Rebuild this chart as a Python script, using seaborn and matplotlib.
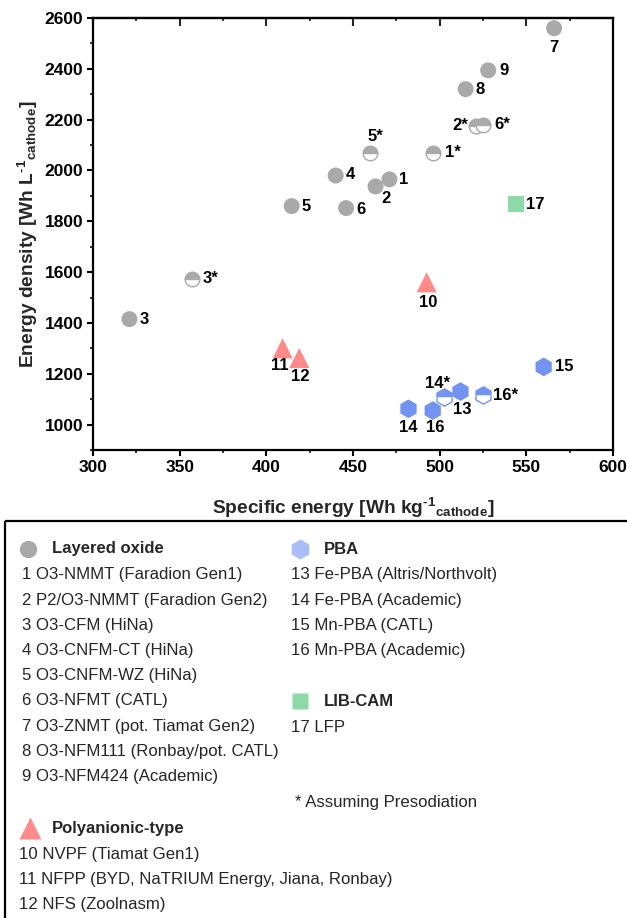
import numpy as np
import pandas as pd
import matplotlib
matplotlib.use("Agg")
import matplotlib.pyplot as plt
import seaborn as sns
from matplotlib.ticker import MultipleLocator
from matplotlib.patches import Rectangle

# ---------------- data ----------------
labels = ["1", "2", "3", "4", "5", "6", "7", "8", "9",
          "1*", "2*", "3*", "5*", "6*",
          "10", "11", "12",
          "13", "14", "15", "16", "14*", "16*",
          "17"]
specific_energy = [471, 463, 321, 440, 414.6, 446, 566, 515, 528,
                   496, 521, 357, 460, 525,
                   492.5, 409.4, 419,
                   512, 482, 560, 496, 502.5, 525,
                   544]
energy_density = [1965, 1937, 1415, 1980, 1860, 1852, 2560, 2320, 2394,
                  2069, 2176, 1574, 2067, 2178,
                  1560, 1300, 1262,
                  1130, 1062, 1227, 1055, 1110, 1118,
                  1868]
classes = ["Layered oxide"] * 14 + ["Polyanionic-type"] * 3 + ["PBA"] * 6 + ["LIB-CAM"]
presodiated = [False] * 9 + [True] * 5 + [False] * 3 + [False] * 4 + [True] * 2 + [False]

legend_layered = ["1 O3-NMMT (Faradion Gen1)", "2 P2/O3-NMMT (Faradion Gen2)",
                  "3 O3-CFM (HiNa)", "4 O3-CNFM-CT (HiNa)", "5 O3-CNFM-WZ (HiNa)",
                  "6 O3-NFMT (CATL)", "7 O3-ZNMT (pot. Tiamat Gen2)",
                  "8 O3-NFM111 (Ronbay/pot. CATL)", "9 O3-NFM424 (Academic)"]
legend_poly = ["10 NVPF (Tiamat Gen1)",
               "11 NFPP (BYD, NaTRIUM Energy, Jiana, Ronbay)",
               "12 NFS (Zoolnasm)"]
legend_pba = ["13 Fe-PBA (Altris/Northvolt)", "14 Fe-PBA (Academic)",
              "15 Mn-PBA (CATL)", "16 Mn-PBA (Academic)"]
legend_lib = ["17 LFP"]

df = pd.DataFrame({"label": labels, "x": specific_energy, "y": energy_density,
                   "cls": classes, "presod": presodiated})

# ---------------- styles ----------------
style = {
    "Layered oxide":    dict(marker="o", color="#A9A9A9", ms=11.5, lcolor="#A9A9A9"),
    "Polyanionic-type": dict(marker="^", color="#FF8A8A", ms=14.5, lcolor="#FF8A8A"),
    "PBA":              dict(marker="h", color="#7393F1", ms=13.5, lcolor="#A9BEF9"),
    "LIB-CAM":          dict(marker="s", color="#8ED9A8", ms=11.0, lcolor="#8ED9A8"),
}
PX = 0.72  # px -> pt
label_pos = {
    "1": (10, 0, "left"), "2": (10, -12.5, "center"), "3": (10, 0, "left"),
    "4": (10, 1, "left"), "5": (10, 0, "left"), "6": (10, -1, "left"),
    "7": (0, -19, "center"), "8": (10, 0, "left"), "9": (11, 0, "left"),
    "1*": (12, 0, "left"), "2*": (-8, 0, "right"), "3*": (11, 0, "left"),
    "5*": (5, 17, "center"), "6*": (11, 1, "left"),
    "10": (1.5, -20, "center"), "11": (-3, -17, "center"), "12": (1, -18, "center"),
    "13": (2, -18, "center"), "14": (0, -19, "center"), "15": (11, 0, "left"),
    "16": (3, -17, "center"), "14*": (-7, 13, "center"), "16*": (10.5, -1, "left"),
    "17": (10, 0, "left"),
}

sns.set_theme(style="ticks")
plt.rcParams["font.family"] = ["Liberation Sans", "DejaVu Sans"]
plt.rcParams["mathtext.fontset"] = "custom"
plt.rcParams["mathtext.rm"] = "Liberation Sans:bold"
plt.rcParams["mathtext.bf"] = "Liberation Sans:bold"
plt.rcParams["mathtext.it"] = "Liberation Sans:bold"

W, H = 627, 918
fig = plt.figure(figsize=(W / 100, H / 100), dpi=100)
ax = fig.add_axes([93 / W, 1 - 450 / H, 520 / W, 432 / H])

# filled markers
for cls, st in style.items():
    sub = df[(df.cls == cls) & (~df.presod)]
    sns.scatterplot(data=sub, x="x", y="y", ax=ax, marker=st["marker"],
                    s=st["ms"] ** 2, color=st["color"], edgecolor="none",
                    linewidth=0, zorder=3, legend=False)
# half-filled (presodiation) markers
for cls, st in style.items():
    sub = df[(df.cls == cls) & (df.presod)]
    for _, r in sub.iterrows():
        ax.plot([r.x], [r.y], ls="none", marker=st["marker"], ms=st["ms"] - 1,
                fillstyle="top", markerfacecolor=st["color"],
                markerfacecoloralt="white", markeredgecolor=st["color"],
                markeredgewidth=1.0, zorder=4)

# point labels
for _, r in df.iterrows():
    dx, dy, ha = label_pos[r.label]
    ax.annotate(r.label, (r.x, r.y), xytext=(dx * PX, dy * PX),
                textcoords="offset points", ha=ha, va="center",
                fontsize=12, fontweight="bold", color="black", zorder=5)

ax.set_xlim(300, 600)
ax.set_ylim(900, 2600)
ax.xaxis.set_major_locator(MultipleLocator(50))
ax.xaxis.set_minor_locator(MultipleLocator(25))
ax.yaxis.set_major_locator(MultipleLocator(200))
ax.yaxis.set_minor_locator(MultipleLocator(100))
ax.set_yticks([1000, 1200, 1400, 1600, 1800, 2000, 2200, 2400, 2600])
for s in ax.spines.values():
    s.set_linewidth(1.6)
    s.set_color("black")
ax.tick_params(which="major", length=4, width=1.5, direction="out",
               labelsize=12.5, pad=3, colors="black")
ax.tick_params(which="minor", length=2.5, width=1.3, direction="out")
for lab in ax.get_xticklabels() + ax.get_yticklabels():
    lab.set_fontweight("bold")

sec = ax.secondary_xaxis("top")
sec.xaxis.set_major_locator(MultipleLocator(50))
sec.xaxis.set_minor_locator(MultipleLocator(25))
sec.tick_params(which="major", direction="in", length=5.5, width=1.5, labeltop=False)
sec.tick_params(which="minor", direction="in", length=2.5, width=1.3)
sec.spines["top"].set_linewidth(1.6)

ax.set_xlabel(r"Specific energy [Wh kg$^{\text{-}1}{}_{\mathrm{cathode}}$]",
              fontsize=13.8, fontweight="bold")
ax.set_ylabel(r"Energy density [Wh L$^{\text{-}1}{}_{\mathrm{cathode}}$]",
              fontsize=13.8, fontweight="bold")
ax.xaxis.label.set_va("center")
ax.yaxis.label.set_va("center")
ax.xaxis.set_label_coords(0.5, -(508 - 450) / 432)
ax.yaxis.set_label_coords(-(93 - 28) / 520, 0.5)

# ---------------- legend panel ----------------
lax = fig.add_axes([0, 0, 1, 1], zorder=-1)
lax.set_xlim(0, W)
lax.set_ylim(H, 0)
lax.axis("off")
lax.add_patch(Rectangle((5, 521), W + 10, H, fill=False, lw=1.6, ec="black"))

fs = 12.1
fs_h = 12.0


def header(x_m, x_t, y, cls):
    st = style[cls]
    lax.plot([x_m], [y], ls="none", marker=st["marker"], ms=st["ms"] + 1,
             color=st["lcolor"], mec="none")
    lax.text(x_t, y, cls, fontsize=fs_h, fontweight="bold", va="center", ha="left")


header(28, 52, 549, "Layered oxide")
for i, t in enumerate(legend_layered):
    lax.text(22, 575 + i * 25.2, t, fontsize=fs, va="center", ha="left")
header(30, 52, 828, "Polyanionic-type")
for i, t in enumerate(legend_poly):
    lax.text(19, 854 + i * 25.5, t, fontsize=fs, va="center", ha="left")
header(300, 324, 549, "PBA")
for i, t in enumerate(legend_pba):
    lax.text(291, 575 + i * 25.2, t, fontsize=fs, va="center", ha="left")
header(300, 324, 701, "LIB-CAM")
for i, t in enumerate(legend_lib):
    lax.text(291, 727 + i * 25.2, t, fontsize=fs, va="center", ha="left")
lax.text(295, 803, "* Assuming Presodiation", fontsize=fs, va="center", ha="left")

fig.savefig("out.png", dpi=100)
